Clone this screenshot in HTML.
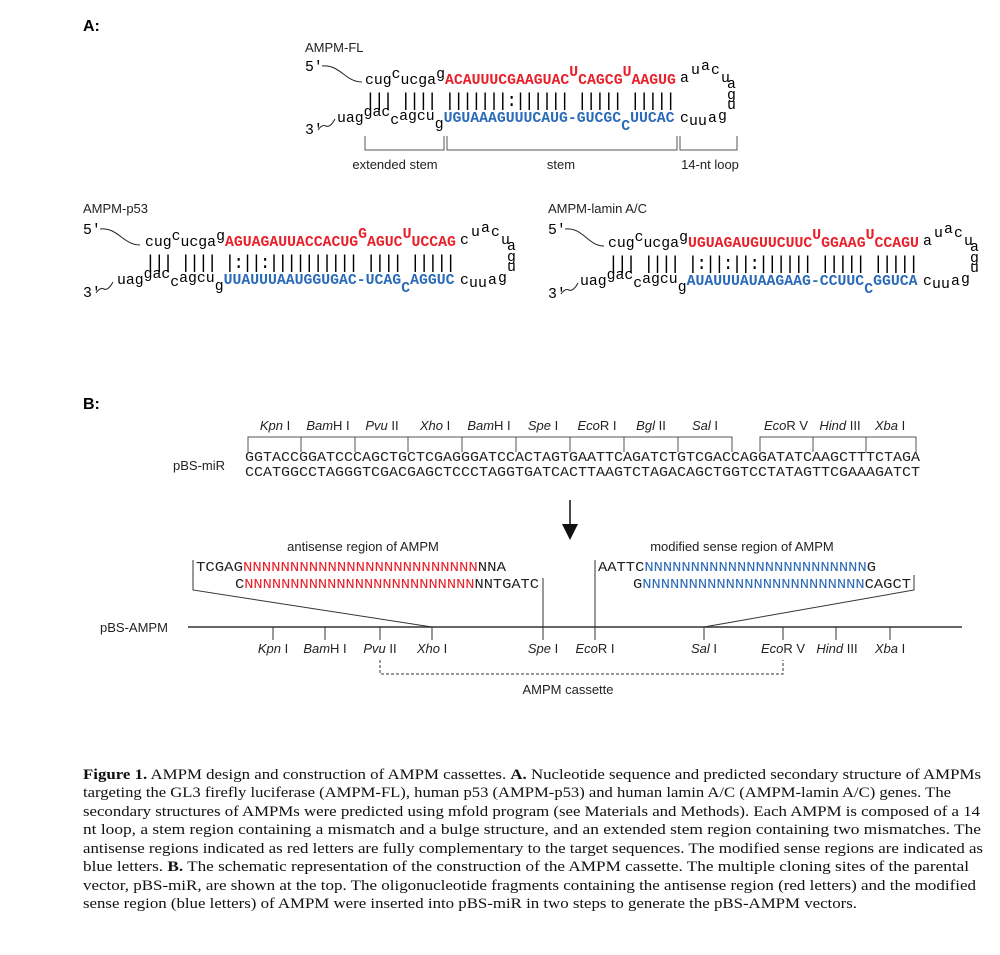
<!DOCTYPE html>
<html><head><meta charset="utf-8"><style>
html,body{margin:0;padding:0;background:#fff;width:1000px;height:955px;overflow:hidden}
svg{display:block}
.m{font-family:"Liberation Mono",monospace;font-size:14.8px}
.bar{font-family:"Liberation Mono",monospace;font-size:18px}
.s{font-family:"Liberation Sans",sans-serif;font-size:13px;fill:#222}
.r{fill:#e8202a;font-weight:bold}
.b{fill:#2a6ab8;font-weight:bold}
.cap{font-family:"Liberation Serif",serif;font-size:14.3px;fill:#111}
.it{font-style:italic}
</style></head><body>
<svg width="1000" height="955" viewBox="0 0 1000 955" xmlns="http://www.w3.org/2000/svg">
<defs>
<g id="loopA" class="m">
<text x="0" y="0">a</text><text x="11" y="-8">u</text><text x="21" y="-12">a</text><text x="31" y="-8">c</text><text x="41" y="0">u</text><text x="47" y="6">a</text><text x="47" y="17">g</text><text x="47" y="27">u</text>
<text x="38" y="38">g</text><text x="28" y="40">a</text><text x="18" y="43">u</text><text x="9" y="43">u</text><text x="0" y="40">c</text>
</g>
<g id="loopC" class="m">
<text x="0" y="0">c</text><text x="11" y="-8">u</text><text x="21" y="-12">a</text><text x="31" y="-8">c</text><text x="41" y="0">u</text><text x="47" y="6">a</text><text x="47" y="17">g</text><text x="47" y="27">u</text>
<text x="38" y="38">g</text><text x="28" y="40">a</text><text x="18" y="43">u</text><text x="9" y="43">u</text><text x="0" y="40">c</text>
</g>
</defs>
<text x="83" y="31" font-family="Liberation Sans" font-weight="bold" font-size="16">A:</text>

<!-- AMPM-FL -->
<text x="305" y="52" class="s">AMPM-FL</text>
<text x="305" y="71" class="m" font-size="13">5'</text>
<path d="M322,66 C340,64 345,82 362,82" fill="none" stroke="#222"/>
<text x="305" y="134" class="m" font-size="13">3'</text>
<path d="M318,130 Q322,124 326,126 Q330,128 335,119" fill="none" stroke="#222"/>
<text x="365" y="84" class="m">cug<tspan dy="-6">c</tspan><tspan dy="6">ucga</tspan><tspan dy="-6">g</tspan><tspan dy="6" class="r">ACAUUUCGAAGUAC</tspan><tspan dy="-8" class="r">U</tspan><tspan dy="8" class="r">CAGCG</tspan><tspan dy="-8" class="r">U</tspan><tspan dy="8" class="r">AAGUG</tspan></text>
<text x="365" y="106" class="bar" textLength="311" lengthAdjust="spacing" xml:space="preserve">||| |||| |||||||:|||||| ||||| |||||</text>
<text x="337" y="122" class="m">uag<tspan dy="-6">gac</tspan><tspan dy="8">c</tspan><tspan dy="-4">agcu</tspan><tspan dy="8">g</tspan><tspan dy="-6" class="b">UGUAAAGUUUCAUG-GUCGC</tspan><tspan dy="8" class="b">C</tspan><tspan dy="-8" class="b">UUCAC</tspan></text>
<use href="#loopA" x="680" y="82"/>
<g stroke="#555" fill="none">
<path d="M365,136 V150 H444 V136 M447,136 V150 H677 V136 M680,136 V150 H737 V136"/>
</g>
<text x="395" y="169" class="s" text-anchor="middle">extended stem</text>
<text x="561" y="169" class="s" text-anchor="middle">stem</text>
<text x="710" y="169" class="s" text-anchor="middle">14-nt loop</text>

<!-- AMPM-p53 -->
<text x="83" y="213" class="s">AMPM-p53</text>
<text x="83" y="234" class="m" font-size="13">5'</text>
<path d="M100,229 C118,227 123,245 140,245" fill="none" stroke="#222"/>
<text x="83" y="297" class="m" font-size="13">3'</text>
<path d="M96,293 Q100,287 104,289 Q108,291 113,282" fill="none" stroke="#222"/>
<text x="145" y="246" class="m">cug<tspan dy="-6">c</tspan><tspan dy="6">ucga</tspan><tspan dy="-6">g</tspan><tspan dy="6" class="r">AGUAGAUUACCACUG</tspan><tspan dy="-8" class="r">G</tspan><tspan dy="8" class="r">AGUC</tspan><tspan dy="-8" class="r">U</tspan><tspan dy="8" class="r">UCCAG</tspan></text>
<text x="145" y="268" class="bar" textLength="311" lengthAdjust="spacing" xml:space="preserve">||| |||| |:||:|||||||||| |||| |||||</text>
<text x="117" y="284" class="m">uag<tspan dy="-6">gac</tspan><tspan dy="8">c</tspan><tspan dy="-4">agcu</tspan><tspan dy="8">g</tspan><tspan dy="-6" class="b">UUAUUUAAUGGUGAC-UCAG</tspan><tspan dy="8" class="b">C</tspan><tspan dy="-8" class="b">AGGUC</tspan></text>
<use href="#loopC" x="460" y="244"/>

<!-- AMPM-lamin -->
<text x="548" y="213" class="s">AMPM-lamin A/C</text>
<text x="548" y="234" class="m" font-size="13">5'</text>
<path d="M565,229 C583,227 588,246 604,246" fill="none" stroke="#222"/>
<text x="548" y="298" class="m" font-size="13">3'</text>
<path d="M561,294 Q565,288 569,290 Q573,292 578,283" fill="none" stroke="#222"/>
<text x="608" y="247" class="m">cug<tspan dy="-6">c</tspan><tspan dy="6">ucga</tspan><tspan dy="-6">g</tspan><tspan dy="6" class="r">UGUAGAUGUUCUUC</tspan><tspan dy="-8" class="r">U</tspan><tspan dy="8" class="r">GGAAG</tspan><tspan dy="-8" class="r">U</tspan><tspan dy="8" class="r">CCAGU</tspan></text>
<text x="608" y="269" class="bar" textLength="311" lengthAdjust="spacing" xml:space="preserve">||| |||| |:||:||:|||||| ||||| |||||</text>
<text x="580" y="285" class="m">uag<tspan dy="-6">gac</tspan><tspan dy="8">c</tspan><tspan dy="-4">agcu</tspan><tspan dy="8">g</tspan><tspan dy="-6" class="b">AUAUUUAUAAGAAG-CCUUC</tspan><tspan dy="8" class="b">C</tspan><tspan dy="-8" class="b">GGUCA</tspan></text>
<use href="#loopA" x="923" y="245"/>

<!-- B -->
<text x="83" y="409" font-family="Liberation Sans" font-weight="bold" font-size="16">B:</text>
<g class="s" text-anchor="middle">
<text x="275" y="430"><tspan class="it">Kpn</tspan> I</text>
<text x="328" y="430"><tspan class="it">Bam</tspan>H I</text>
<text x="382" y="430"><tspan class="it">Pvu</tspan> II</text>
<text x="435" y="430"><tspan class="it">Xho</tspan> I</text>
<text x="489" y="430"><tspan class="it">Bam</tspan>H I</text>
<text x="543" y="430"><tspan class="it">Spe</tspan> I</text>
<text x="597" y="430"><tspan class="it">Eco</tspan>R I</text>
<text x="651" y="430"><tspan class="it">Bgl</tspan> II</text>
<text x="705" y="430"><tspan class="it">Sal</tspan> I</text>
<text x="786" y="430"><tspan class="it">Eco</tspan>R V</text>
<text x="840" y="430"><tspan class="it">Hind</tspan> III</text>
<text x="890" y="430"><tspan class="it">Xba</tspan> I</text>
</g>
<g stroke="#555" fill="none">
<path d="M248,452 V437 H732 V452 M301,437 V452 M355,437 V452 M408,437 V452 M462,437 V452 M516,437 V452 M570,437 V452 M624,437 V452 M678,437 V452"/>
<path d="M760,452 V437 H916 V452 M813,437 V452 M866,437 V452"/>
</g>
<text x="173" y="470" class="s">pBS-miR</text>
<text x="245" y="461" font-family="Liberation Mono" font-size="13.5" textLength="675" lengthAdjust="spacingAndGlyphs" fill="#222">GGTACCGGATCCCAGCTGCTCGAGGGATCCACTAGTGAATTCAGATCTGTCGACCAGGATATCAAGCTTTCTAGA</text>
<text x="245" y="476" font-family="Liberation Mono" font-size="13.5" textLength="675" lengthAdjust="spacingAndGlyphs" fill="#222">CCATGGCCTAGGGTCGACGAGCTCCCTAGGTGATCACTTAAGTCTAGACAGCTGGTCCTATAGTTCGAAAGATCT</text>

<path d="M570,500 V525" stroke="#111" stroke-width="1.5"/>
<path d="M562,524 L578,524 L570,540 Z" fill="#111"/>

<text x="363" y="551" class="s" text-anchor="middle">antisense region of AMPM</text>
<text x="742" y="551" class="s" text-anchor="middle">modified sense region of AMPM</text>
<g font-family="Liberation Mono" font-size="13.5" fill="#222">
<text x="196" y="571" textLength="310" lengthAdjust="spacingAndGlyphs">TCGAG<tspan fill="#e8202a">NNNNNNNNNNNNNNNNNNNNNNNNN</tspan>NNA</text>
<text x="235" y="588" textLength="304" lengthAdjust="spacingAndGlyphs">C<tspan fill="#e8202a">NNNNNNNNNNNNNNNNNNNNNNNNN</tspan>NNTGATC</text>
<text x="598" y="571" textLength="278" lengthAdjust="spacingAndGlyphs">AATTC<tspan fill="#2a6ab8">NNNNNNNNNNNNNNNNNNNNNNNN</tspan>G</text>
<text x="633" y="588" textLength="278" lengthAdjust="spacingAndGlyphs">G<tspan fill="#2a6ab8">NNNNNNNNNNNNNNNNNNNNNNNN</tspan>CAGCT</text>
</g>
<g stroke="#333" fill="none">
<path d="M193,560 V590 L432,627"/>
<path d="M543,578 V640"/>
<path d="M595,560 V640"/>
<path d="M914,575 V590 L704,627"/>
<path d="M188,627 H962" stroke-width="1.5"/>
<path d="M273,627 V640 M325,627 V640 M380,627 V640 M432,627 V640 M704,627 V640 M783,627 V640 M836,627 V640 M890,627 V640"/>
<path d="M380,660 V674 H783 V660" stroke-dasharray="3,2"/>
</g>
<text x="100" y="632" class="s">pBS-AMPM</text>
<g class="s" text-anchor="middle">
<text x="273" y="653"><tspan class="it">Kpn</tspan> I</text>
<text x="325" y="653"><tspan class="it">Bam</tspan>H I</text>
<text x="380" y="653"><tspan class="it">Pvu</tspan> II</text>
<text x="432" y="653"><tspan class="it">Xho</tspan> I</text>
<text x="543" y="653"><tspan class="it">Spe</tspan> I</text>
<text x="595" y="653"><tspan class="it">Eco</tspan>R I</text>
<text x="704" y="653"><tspan class="it">Sal</tspan> I</text>
<text x="783" y="653"><tspan class="it">Eco</tspan>R V</text>
<text x="837" y="653"><tspan class="it">Hind</tspan> III</text>
<text x="890" y="653"><tspan class="it">Xba</tspan> I</text>
<text x="568" y="694">AMPM cassette</text>
</g>

<g class="cap">
<text x="83" y="779" textLength="898" lengthAdjust="spacingAndGlyphs"><tspan font-weight="bold">Figure 1.</tspan> AMPM design and construction of AMPM cassettes. <tspan font-weight="bold">A.</tspan> Nucleotide sequence and predicted secondary structure of AMPMs</text>
<text x="83" y="797" textLength="868" lengthAdjust="spacingAndGlyphs">targeting the GL3 firefly luciferase (AMPM-FL), human p53 (AMPM-p53) and human lamin A/C (AMPM-lamin A/C) genes. The</text>
<text x="83" y="816" textLength="897" lengthAdjust="spacingAndGlyphs">secondary structures of AMPMs were predicted using mfold program (see Materials and Methods). Each AMPM is composed of a 14</text>
<text x="83" y="834" textLength="898" lengthAdjust="spacingAndGlyphs">nt loop, a stem region containing a mismatch and a bulge structure, and an extended stem region containing two mismatches. The</text>
<text x="83" y="853" textLength="900" lengthAdjust="spacingAndGlyphs">antisense regions indicated as red letters are fully complementary to the target sequences. The modified sense regions are indicated as</text>
<text x="83" y="871" textLength="886" lengthAdjust="spacingAndGlyphs">blue letters. <tspan font-weight="bold">B.</tspan> The schematic representation of the construction of the AMPM cassette. The multiple cloning sites of the parental</text>
<text x="83" y="890" textLength="893" lengthAdjust="spacingAndGlyphs">vector, pBS-miR, are shown at the top. The oligonucleotide fragments containing the antisense region (red letters) and the modified</text>
<text x="83" y="908" textLength="774" lengthAdjust="spacingAndGlyphs">sense region (blue letters) of AMPM were inserted into pBS-miR in two steps to generate the pBS-AMPM vectors.</text>
</g>
</svg>
</body></html>
